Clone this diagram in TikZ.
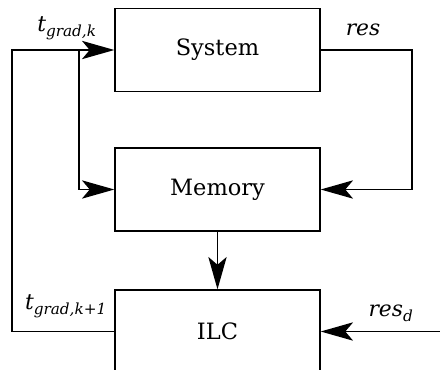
\documentclass[tikz,border=0pt]{standalone}
\usepackage{fontspec}
\setmainfont{DejaVu Serif}
\usetikzlibrary{arrows.meta}

\tikzset{
  block/.style={draw,line width=0.9pt,minimum width=5.125cm,minimum height=2.075cm,
    font=\fontsize{16}{19}\selectfont},
  arr/.style={line width=1.3pt,-{Stealth[length=23pt,width=13pt,inset=5.5pt]}},
  sig/.style={font=\fontsize{15.5}{18}\selectfont\itshape}
}

\begin{document}
\begin{tikzpicture}[x=0.025cm,y=-0.025cm]
        \useasboundingbox (0,0) rectangle (440,369);
        \clip (0,0) rectangle (440,369);
        % blocks
        \node[block] (sys) at (217.5,50) {System};
        \node[block] (mem) at (217.5,189.5) {Memory};
        \node[block] (ilc) at (217.5,331.5) {ILC};
        % bus positions
        \coordinate (leftbus) at (12,0);
        \coordinate (tap) at (79,0);
        \coordinate (rightbus) at (412,0);
        \coordinate (resin) at (440,0);
        % feedback from ILC to System
        \draw[arr] (ilc.west) -- (ilc.west -| leftbus) |- (sys.west);
        \draw[arr] (sys.west -| tap) |- (mem.west);
        % output to memory
        \draw[arr] (sys.east) -- (sys.east -| rightbus) |- (mem.east);
        \draw[arr] (mem) -- (ilc);
        % reference input
        \draw[arr] (ilc.east -| resin) -- (ilc.east);
        % labels
        \node[sig] (tk) at (67,28) {t\textsubscript{grad,k}};
        \node[sig] (res) at (363,30) {res};
        \node[sig] (tk1) at (66,306) {t\textsubscript{grad,k+1}};
        \node[sig] (resd) at (391,313) {res\textsubscript{d}};
    \end{tikzpicture}
\end{document}
